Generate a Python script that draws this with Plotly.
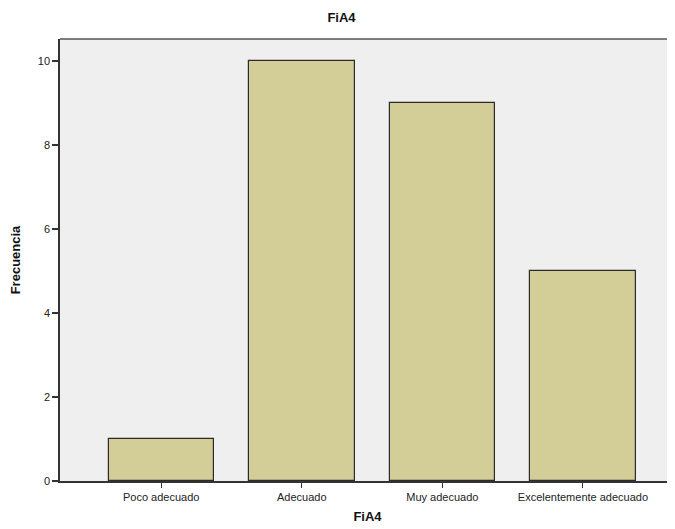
import plotly.graph_objects as go

categories = ["Poco adecuado", "Adecuado", "Muy adecuado", "Excelentemente adecuado"]
frequencies = [1, 10, 9, 5]
y_ticks = [0, 2, 4, 6, 8, 10]

fig = go.Figure(go.Bar(
    x=list(range(len(categories))),
    y=frequencies,
    width=0.75,
    marker=dict(color="#D3CE98", line=dict(color="#2b2b2b", width=1.2)),
))

fig.update_layout(
    width=667, height=521,
    margin=dict(l=52, r=0, t=31, b=48),
    paper_bgcolor="white",
    plot_bgcolor="#EFEFEF",
    font=dict(family="Liberation Sans, Arial, sans-serif", size=11, color="#222"),
    title=dict(text="<b>FiA4</b>", x=0.5, xanchor="center", y=0.991, yanchor="top",
               font=dict(size=13, color="#111")),
    showlegend=False,
    bargap=0,
)
fig.update_xaxes(
    range=[-0.72, 3.655],
    tickmode="array", tickvals=list(range(len(categories))), ticktext=categories,
    ticks="outside", ticklen=5, tickcolor="#333", tickwidth=1,
    showgrid=False, zeroline=False,
    showline=True, linecolor="#333", linewidth=1.5,
    title=dict(text="<b>FiA4</b>", font=dict(size=13, color="#111"), standoff=10),
    tickfont=dict(size=11, color="#222"),
)
fig.update_yaxes(
    range=[0, 10.52],
    tickmode="array", tickvals=y_ticks,
    ticks="outside", ticklen=6, tickcolor="#333", tickwidth=1.5,
    showgrid=False, zeroline=False,
    showline=True, linecolor="#333", linewidth=1.5, mirror=False,
    title=dict(text="<b>Frecuencia</b>", font=dict(size=13, color="#111"), standoff=14),
    tickfont=dict(size=11, color="#222"),
)
fig.add_shape(type="line", xref="paper", yref="paper", x0=0, x1=1, y0=1, y1=1,
              line=dict(color="#555", width=1.5))

fig.write_html("out.html")
